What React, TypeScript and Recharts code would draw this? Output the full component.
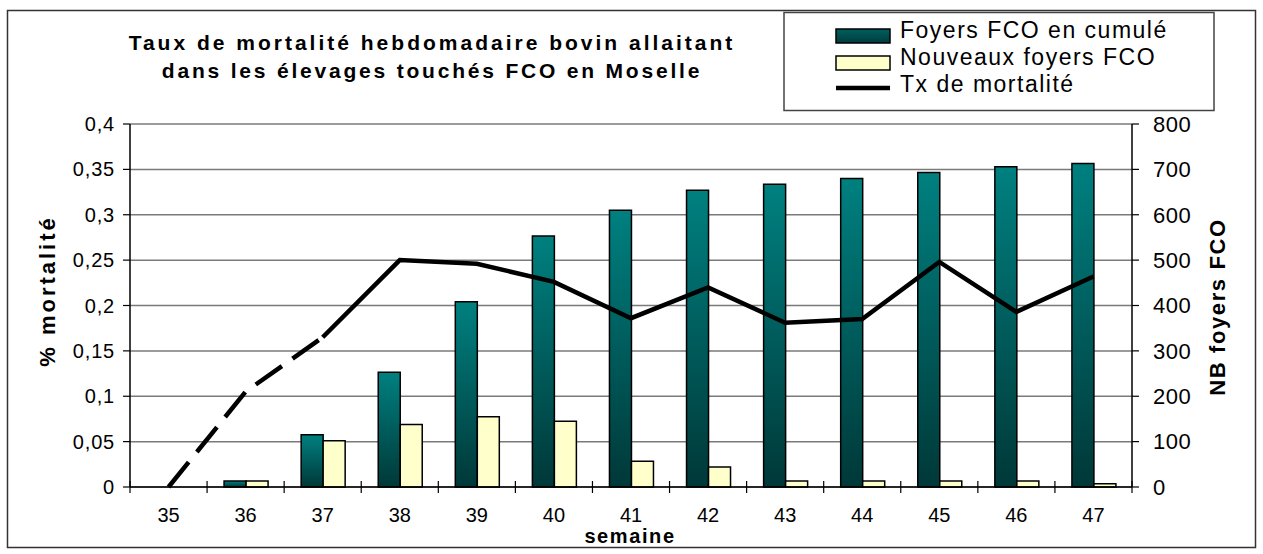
import React from 'react';
import { ComposedChart, Bar, Line, XAxis, YAxis, CartesianGrid } from 'recharts';

const weeks = ['35', '36', '37', '38', '39', '40', '41', '42', '43', '44', '45', '46', '47'];
const foyersCumules = [null, 13, 115, 253, 408, 553, 610, 654, 667, 680, 693, 706, 713];
const nouveauxFoyers = [null, 13, 102, 138, 155, 145, 57, 44, 13, 13, 13, 13, 7];
const txMortalite = [0, 0.105, 0.165, 0.25, 0.246, 0.226, 0.186, 0.22, 0.181, 0.185, 0.248, 0.193, 0.232];
const lastDashedIndex = 2;

const leftTicks = [0, 0.05, 0.1, 0.15, 0.2, 0.25, 0.3, 0.35, 0.4];
const rightTicks = [0, 100, 200, 300, 400, 500, 600, 700, 800];

const data = weeks.map((w, i) => ({
  week: w,
  cumul: foyersCumules[i],
  nouveaux: nouveauxFoyers[i],
  txDash: i <= lastDashedIndex ? txMortalite[i] : null,
  txSolid: i >= lastDashedIndex ? txMortalite[i] : null,
}));

const FONT = '"Liberation Sans", Arial, Helvetica, sans-serif';

const XTick = (props: any) => {
  const { x, y, payload, index } = props;
  const half = payload && typeof payload.offset === 'number' && payload.offset > 0 ? payload.offset : 38.54;
  return (
    <g>
      <line x1={x - half} x2={x - half} y1={y - 6} y2={y + 6} stroke="#000" strokeWidth={1.2} />
      {index === weeks.length - 1 && (
        <line x1={x + half} x2={x + half} y1={y - 6} y2={y + 6} stroke="#000" strokeWidth={1.2} />
      )}
      <text x={x} y={y + 35} textAnchor="middle" fontSize={20} fontFamily={FONT} fill="#000">
        {payload.value}
      </text>
    </g>
  );
};

const fmtLeft = (v: number) => String(v).replace('.', ',');

export default function App() {
  return (
    <div style={{ position: 'absolute', left: 0, top: 0, width: 1263, height: 554, background: '#fff' }}>
      <ComposedChart
        width={1263}
        height={554}
        data={data}
        margin={{ top: 124, right: 0, bottom: 0, left: 0 }}
        barGap={0}
      >
        <defs>
          <linearGradient id="tealGrad" x1="0" y1="0" x2="0" y2="1">
            <stop offset="0" stopColor="#008080" />
            <stop offset="1" stopColor="#003838" />
          </linearGradient>
        </defs>
        <CartesianGrid yAxisId="left" vertical={false} stroke="#7a7a7a" strokeWidth={1.5} />
        <XAxis
          dataKey="week"
          height={67}
          interval={0}
          tickSize={0}
          tickMargin={0}
          tick={<XTick />}
          axisLine={{ stroke: '#000', strokeWidth: 1.5 }}
          tickLine={false}
        />
        <YAxis
          yAxisId="left"
          orientation="left"
          width={130}
          domain={[0, 0.4]}
          ticks={leftTicks}
          tickFormatter={fmtLeft}
          tickSize={7}
          tickMargin={8}
          axisLine={{ stroke: '#000', strokeWidth: 1.5 }}
          tickLine={{ stroke: '#000', strokeWidth: 1.2 }}
          tick={{ fontSize: 20, fontFamily: FONT, fill: '#000', letterSpacing: 0.8 }}
          interval={0}
        />
        <YAxis
          yAxisId="right"
          orientation="right"
          width={131}
          domain={[0, 800]}
          ticks={rightTicks}
          tickSize={7}
          tickMargin={14}
          axisLine={{ stroke: '#000', strokeWidth: 1.5 }}
          tickLine={{ stroke: '#000', strokeWidth: 1.2 }}
          tick={{ fontSize: 22, fontFamily: FONT, fill: '#000', letterSpacing: 0.5 }}
          interval={0}
        />
        <Bar
          yAxisId="right"
          dataKey="cumul"
          barSize={22}
          fill="url(#tealGrad)"
          stroke="#000"
          strokeWidth={1.5}
          isAnimationActive={false}
        />
        <Bar
          yAxisId="right"
          dataKey="nouveaux"
          barSize={22}
          fill="#FFFFCC"
          stroke="#000"
          strokeWidth={1.5}
          isAnimationActive={false}
        />
        <Line
          yAxisId="left"
          type="linear"
          dataKey="txDash"
          stroke="#000"
          strokeWidth={4.5}
          strokeDasharray="32 13"
          dot={false}
          activeDot={false}
          connectNulls={false}
          isAnimationActive={false}
        />
        <Line
          yAxisId="left"
          type="linear"
          dataKey="txSolid"
          stroke="#000"
          strokeWidth={4.5}
          dot={false}
          activeDot={false}
          connectNulls={false}
          isAnimationActive={false}
        />
      </ComposedChart>
      <svg
        width={1263}
        height={554}
        style={{ position: 'absolute', left: 0, top: 0, pointerEvents: 'none' }}
      >
        <defs>
          <linearGradient id="tealLeg" x1="0" y1="0" x2="0" y2="1">
            <stop offset="0" stopColor="#006060" />
            <stop offset="1" stopColor="#003c3c" />
          </linearGradient>
        </defs>
        <rect x={7.5} y={10.5} width={1248} height={537} fill="none" stroke="#333" strokeWidth={1.5} />
        <text x={432} y={50} textAnchor="middle" fontSize={21} fontWeight="bold" fontFamily={FONT} letterSpacing={3} fill="#000">
          Taux de mortalité hebdomadaire bovin allaitant
        </text>
        <text x={432} y={78} textAnchor="middle" fontSize={21} fontWeight="bold" fontFamily={FONT} letterSpacing={2.8} fill="#000">
          dans les élevages touchés FCO en Moselle
        </text>
        <rect x={784} y={12.5} width={430} height={98} fill="#fff" stroke="#444" strokeWidth={1.5} />
        <rect x={836} y={29} width={54} height={14} fill="url(#tealLeg)" stroke="#000" strokeWidth={1.5} />
        <text x={900} y={38} fontSize={23} fontFamily={FONT} letterSpacing={1.5} fill="#000">Foyers FCO en cumulé</text>
        <rect x={836} y={56} width={54} height={14} fill="#FFFFCC" stroke="#000" strokeWidth={1.5} />
        <text x={900} y={65} fontSize={23} fontFamily={FONT} letterSpacing={1.5} fill="#000">Nouveaux foyers FCO</text>
        <line x1={836} x2={890} y1={88} y2={88} stroke="#000" strokeWidth={4.5} />
        <text x={900} y={92} fontSize={23} fontFamily={FONT} letterSpacing={1.5} fill="#000">Tx de mortalité</text>
        <text x={55} y={291} transform="rotate(-90 55 291)" textAnchor="middle" fontSize={22} fontWeight="bold" fontFamily={FONT} letterSpacing={3} fill="#000">
          % mortalité
        </text>
        <text x={1225} y={307} transform="rotate(-90 1225 307)" textAnchor="middle" fontSize={22} fontWeight="bold" fontFamily={FONT} letterSpacing={1.6} fill="#000">
          NB foyers FCO
        </text>
        <text x={630} y={543} textAnchor="middle" fontSize={20} fontWeight="bold" fontFamily={FONT} letterSpacing={1.6} fill="#000">
          semaine
        </text>
      </svg>
    </div>
  );
}
